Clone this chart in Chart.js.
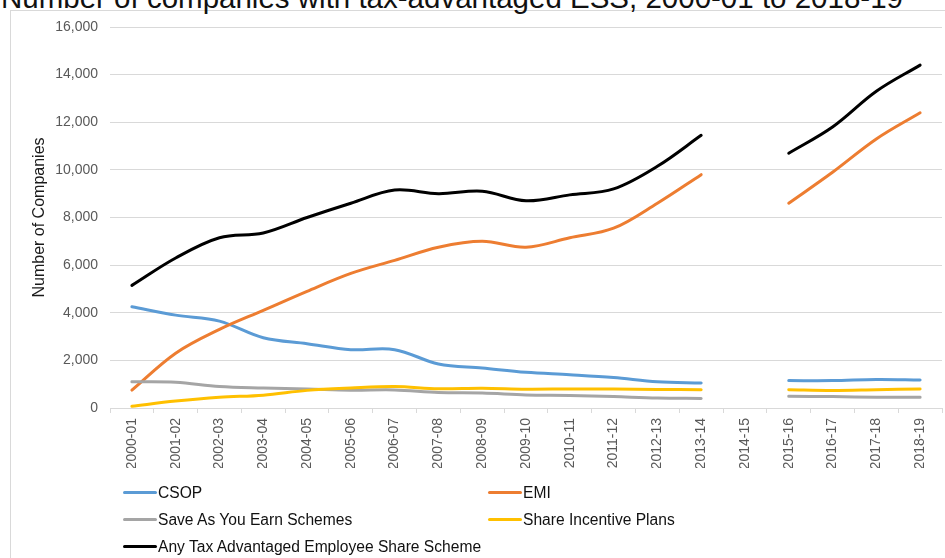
<!DOCTYPE html>
<html>
<head>
<meta charset="utf-8">
<script src="https://cdn.jsdelivr.net/npm/chart.js@4/dist/chart.umd.min.js"></script>
<style>
  html, body { margin: 0; padding: 0; background: #fff; }
  body { width: 945px; height: 558px; position: relative; overflow: hidden;
         font-family: 'Liberation Sans', Arial, sans-serif; }
  .frame { position: absolute; left: 10px; top: 10px; width: 1000px; height: 600px;
           border: 1px solid #d9d9d9; box-sizing: border-box; }
  .heading { position: absolute; left: 1px; top: -17px; font-size: 29.5px; line-height: 1;
             color: #111; white-space: nowrap; }
  #chartBox { position: absolute; left: 0; top: 0; width: 945px; height: 558px; }
  #legend { position: absolute; left: 123px; top: 479px;
            display: grid; grid-template-columns: 365px auto; grid-auto-rows: 27px; }
  .legend-item { display: flex; align-items: center; font-size: 15.6px; color: #111; }
  .legend-swatch { width: 34px; height: 3px; border-radius: 1.5px; margin-right: 1px; }
</style>
</head>
<body>
<div class="frame"></div>
<div class="heading">Number of companies with tax-advantaged ESS, 2000-01 to 2018-19</div>
<div id="chartBox"><canvas id="essChart" width="945" height="558"></canvas></div>
<div id="legend"></div>

<script>
// ── DATA ─────────────────────────────────────────────────────────
const years = [
    '2000-01', '2001-02', '2002-03', '2003-04', '2004-05', '2005-06', '2006-07',
    '2007-08', '2008-09', '2009-10', '2010-11', '2011-12', '2012-13', '2013-14',
    '2014-15', '2015-16', '2016-17', '2017-18', '2018-19'
];

// 2014-15 has no figures, so every series breaks there
const csop = [4250, 3900, 3650, 2950, 2700, 2450, 2450, 1850, 1680, 1500, 1400, 1280, 1100, 1050, null, 1150, 1150, 1200, 1180];
const emi  = [750, 2300, 3300, 4100, 4900, 5650, 6200, 6750, 7000, 6750, 7150, 7550, 8600, 9800, null, 8600, 9900, 11300, 12400];
const saye = [1100, 1080, 900, 840, 800, 750, 760, 650, 630, 550, 530, 480, 420, 400, null, 490, 480, 450, 450];
const sip  = [70, 290, 450, 540, 740, 840, 900, 810, 830, 790, 800, 800, 780, 770, null, 770, 740, 770, 800];
const anyScheme = [5150, 6300, 7150, 7350, 8000, 8600, 9150, 9000, 9100, 8700, 8950, 9200, 10150, 11450, null, 10700, 11800, 13300, 14400];

const seriesNames = [
    'CSOP', 'EMI', 'Save As You Earn Schemes', 'Share Incentive Plans',
    'Any Tax Advantaged Employee Share Scheme'
];
const seriesValues = [csop, emi, saye, sip, anyScheme];
const seriesColors = ['#5B9BD5', '#ED7D31', '#A5A5A5', '#FFC000', '#000000'];

const yTicks = [0, 2000, 4000, 6000, 8000, 10000, 12000, 14000, 16000];

const GRID = '#d9d9d9';
const TICK_TEXT = '#595959';
const FONT = "'Liberation Sans', Arial, sans-serif";

Chart.defaults.font.family = FONT;

// ── CHART ────────────────────────────────────────────────────────
const datasets = seriesNames.map((name, i) => ({
    label: name,
    data: seriesValues[i],
    borderColor: seriesColors[i],
    backgroundColor: seriesColors[i],
    borderWidth: 3,
    borderCapStyle: 'round',
    borderJoinStyle: 'round',
    pointRadius: 0,
    pointHoverRadius: 0,
    tension: 0.35,
    spanGaps: false,
    // later series sit on top of earlier ones
    order: seriesNames.length - i
}));

const chart = new Chart(document.getElementById('essChart'), {
    type: 'line',
    data: { labels: years, datasets },
    options: {
        responsive: false,
        animation: false,
        layout: { padding: { top: 27, right: 3, bottom: 90, left: 0 } },
        plugins: {
            legend: { display: false },
            tooltip: { enabled: false }
        },
        scales: {
            x: {
                type: 'category',
                offset: true,
                afterFit: s => { s.height = 60; },
                grid: {
                    offset: true,
                    drawOnChartArea: false,
                    drawTicks: true,
                    tickLength: 5,
                    color: GRID
                },
                border: { display: true, color: GRID, width: 1 },
                ticks: {
                    autoSkip: false,
                    minRotation: 90,
                    maxRotation: 90,
                    padding: 5,
                    color: TICK_TEXT,
                    font: { size: 14 }
                }
            },
            y: {
                min: yTicks[0],
                max: yTicks[yTicks.length - 1],
                afterFit: s => { s.width = 110; },
                afterBuildTicks: s => { s.ticks = yTicks.map(v => ({ value: v })); },
                grid: { color: GRID, lineWidth: 1, drawTicks: false },
                border: { display: false },
                ticks: {
                    padding: 12,
                    color: TICK_TEXT,
                    font: { size: 14 },
                    callback: v => v.toLocaleString('en-US')
                },
                title: {
                    display: true,
                    text: 'Number of Companies',
                    color: '#1a1a1a',
                    font: { size: 16 },
                    padding: { top: 30.4, bottom: 0 }
                }
            }
        }
    }
});

// ── LEGEND (two columns, built from the datasets) ────────────────
document.getElementById('legend').innerHTML = chart.data.datasets.map(ds => `
    <div class="legend-item">
        <span class="legend-swatch" style="background:${ds.borderColor}"></span>
        <span>${ds.label}</span>
    </div>
`).join('');
</script>
</body>
</html>
